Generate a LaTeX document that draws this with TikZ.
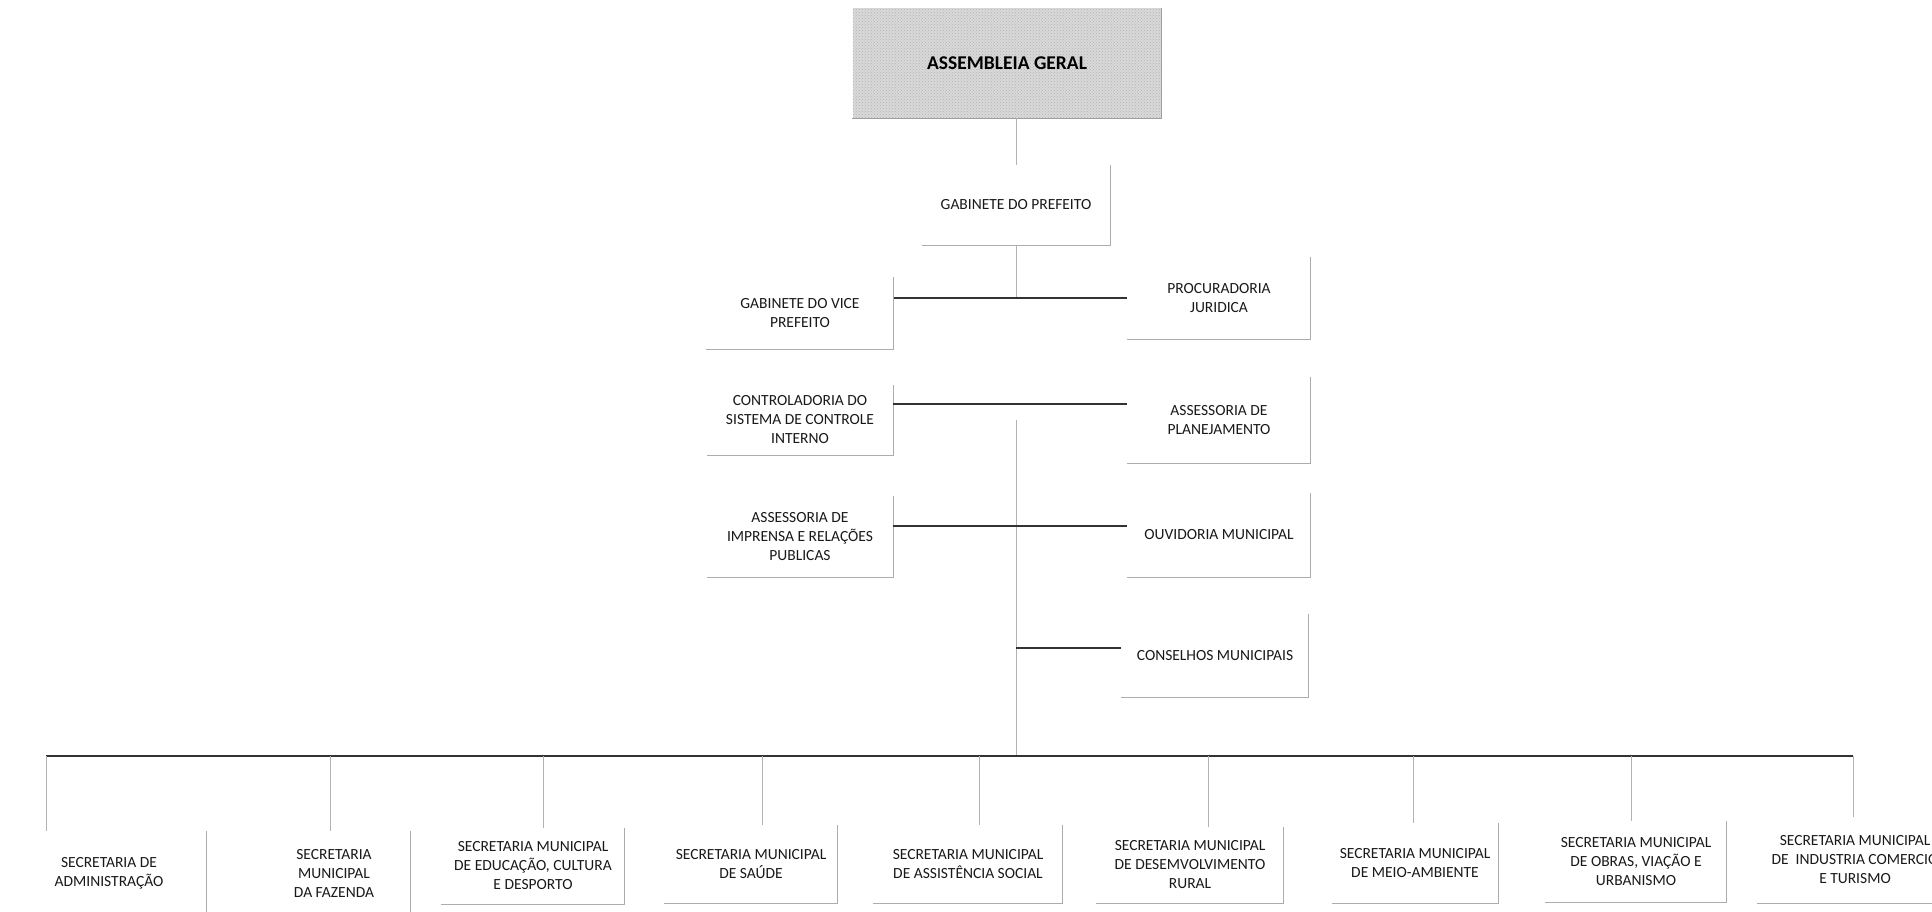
\documentclass[tikz,border=0pt]{standalone}
\usepackage{fontspec}
\setmainfont{Carlito}
\usetikzlibrary{patterns}

\begin{document}
\begin{tikzpicture}[x=1pt, y=-1pt,
	box/.style={inner sep=0pt, align=center, text=black!90, font=\fontsize{15.5}{19}\selectfont},
	rim/.style={draw=gray!65, line width=1pt},
	link/.style={draw=black!80, line width=1.6pt},
	drop/.style={draw=gray!60, line width=0.9pt}]
	\useasboundingbox (0,0) rectangle (1932,911);
	\clip (0,0) rectangle (1932,911);
	\fill[white] (0,0) rectangle (1932,911);

	%top box
	\node[box, minimum width=309pt, minimum height=110pt, fill=gray!30, postaction={pattern=crosshatch dots, pattern color=gray!60}, font=\bfseries\fontsize{19.5}{23}\selectfont, text=black] (asm) at (1007,63) {ASSEMBLEIA GERAL};
	\node[box, minimum width=188pt, minimum height=80pt] (gab) at (1016,205) {GABINETE DO PREFEITO};
	%
	% left column
	\node[box, minimum width=187pt, minimum height=72pt] (vice) at (800,313) {GABINETE DO VICE\\PREFEITO};
	\node[box, minimum width=186pt, minimum height=70pt] (contr) at (800,420) {CONTROLADORIA DO\\SISTEMA DE CONTROLE\\INTERNO};
	\node[box, minimum width=186pt, minimum height=81pt] (impr) at (800,537) {ASSESSORIA DE\\IMPRENSA E RELAÇÕES\\PUBLICAS};
	%
	% right column
	\node[box, minimum width=183pt, minimum height=82pt] (proc) at (1219,298) {PROCURADORIA\\JURIDICA};
	\node[box, minimum width=183pt, minimum height=86pt] (plan) at (1219,420) {ASSESSORIA DE\\PLANEJAMENTO};
	\node[box, minimum width=183pt, minimum height=84pt] (ouv) at (1219,535) {OUVIDORIA MUNICIPAL};
	\node[box, minimum width=187pt, minimum height=83pt] (cons) at (1215,656) {CONSELHOS MUNICIPAIS};
	%
	% secretarias (bottom row)
	\node[box, minimum width=194pt, minimum height=84pt] (adm) at (109,873) {SECRETARIA DE\\ADMINISTRAÇÃO};
	\node[box, minimum width=152pt, minimum height=84pt] (faz) at (334,873) {SECRETARIA\\MUNICIPAL\\DA FAZENDA};
	\node[box, minimum width=183pt, minimum height=76pt] (edu) at (533,866) {SECRETARIA MUNICIPAL\\DE EDUCAÇÃO, CULTURA\\E DESPORTO};
	\node[box, minimum width=173pt, minimum height=78pt] (sau) at (751,864) {SECRETARIA MUNICIPAL\\DE SAÚDE};
	\node[box, minimum width=189pt, minimum height=78pt] (ass) at (968,864) {SECRETARIA MUNICIPAL\\DE ASSISTÊNCIA SOCIAL};
	\node[box, minimum width=187pt, minimum height=76pt] (des) at (1190,865) {SECRETARIA MUNICIPAL\\DE DESEMVOLVIMENTO\\RURAL};
	\node[box, minimum width=166pt, minimum height=80pt] (mei) at (1415,863) {SECRETARIA MUNICIPAL\\DE MEIO-AMBIENTE};
	\node[box, minimum width=181pt, minimum height=81pt] (obr) at (1636,862) {SECRETARIA MUNICIPAL\\DE OBRAS, VIAÇÃO E\\URBANISMO};
	\node[box, minimum width=196pt, minimum height=86pt] (ind) at (1855,860) {SECRETARIA MUNICIPAL\\DE\ \ INDUSTRIA COMERCIO\\E TURISMO};
	%
	% box rims (right and bottom side only)
	\draw[rim, draw=gray!75] (asm.north east) -- (asm.south east) -- (asm.south west);
	\draw[rim] (gab.north east) -- (gab.south east) -- (gab.south west);
	\draw[rim] (vice.north east) -- (vice.south east) -- (vice.south west);
	\draw[rim] (contr.north east) -- (contr.south east) -- (contr.south west);
	\draw[rim] (impr.north east) -- (impr.south east) -- (impr.south west);
	\draw[rim] (proc.north east) -- (proc.south east) -- (proc.south west);
	\draw[rim] (plan.north east) -- (plan.south east) -- (plan.south west);
	\draw[rim] (ouv.north east) -- (ouv.south east) -- (ouv.south west);
	\draw[rim] (cons.north east) -- (cons.south east) -- (cons.south west);
	\draw[rim] (adm.north east) -- (adm.south east) -- (adm.south west);
	\draw[rim] (faz.north east) -- (faz.south east) -- (faz.south west);
	\draw[rim] (edu.north east) -- (edu.south east) -- (edu.south west);
	\draw[rim] (sau.north east) -- (sau.south east) -- (sau.south west);
	\draw[rim] (ass.north east) -- (ass.south east) -- (ass.south west);
	\draw[rim] (des.north east) -- (des.south east) -- (des.south west);
	\draw[rim] (mei.north east) -- (mei.south east) -- (mei.south west);
	\draw[rim] (obr.north east) -- (obr.south east) -- (obr.south west);
	\draw[rim] (ind.north east) -- (ind.south east) -- (ind.south west);
	%
	% trunk
	\coordinate (busl) at (46,756);
	\coordinate (busr) at (1853,756);
	\draw[drop] (gab.north) -- (gab.north |- asm.south);
	\draw[drop] (gab.south) -- (gab.south |- proc.west);
	\draw[drop] (gab.south |- plan.west) -- (gab.south |- busl);
	%
	% side links
	\draw[link] (vice.east |- proc.west) -- (proc.west);
	\draw[link] ([yshift=16pt]contr.east) -- ([yshift=16pt]contr.east -| plan.west);
	\draw[link] ([yshift=11pt]impr.east) -- ([yshift=11pt]impr.east -| ouv.west);
	\draw[link] ([yshift=8pt]cons.west -| gab.south) -- ([yshift=8pt]cons.west);
	%
	% bus and drops to the secretarias
	\draw[link] (busl) -- (busr);
	\draw[drop] (busl) -- (busl |- adm.north);
	\draw[drop] ([xshift=-4pt]faz.north) -- ([xshift=-4pt]faz.north |- busl);
	\draw[drop] ([xshift=10pt]edu.north) -- ([xshift=10pt]edu.north |- busl);
	\draw[drop] ([xshift=11pt]sau.north) -- ([xshift=11pt]sau.north |- busl);
	\draw[drop] ([xshift=11pt]ass.north) -- ([xshift=11pt]ass.north |- busl);
	\draw[drop] ([xshift=18pt]des.north) -- ([xshift=18pt]des.north |- busl);
	\draw[drop] ([xshift=-2pt]mei.north) -- ([xshift=-2pt]mei.north |- busl);
	\draw[drop] ([xshift=-5pt]obr.north) -- ([xshift=-5pt]obr.north |- busl);
	\draw[drop] (busr) -- (busr |- ind.north);
\end{tikzpicture}
\end{document}
